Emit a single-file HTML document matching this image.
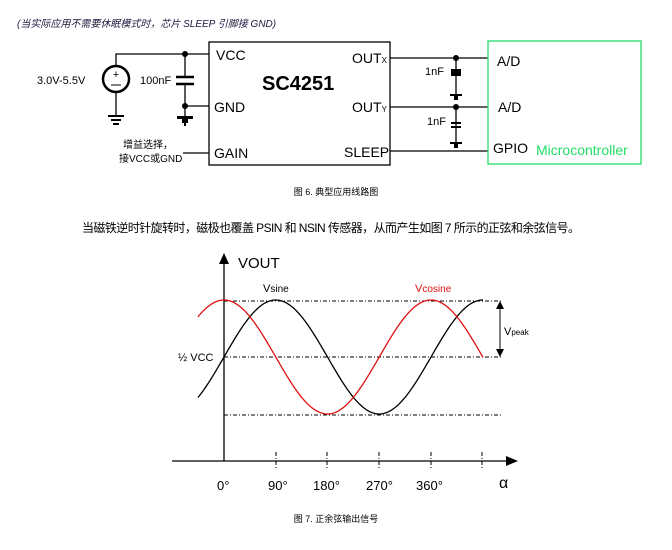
<!DOCTYPE html>
<html><head><meta charset="utf-8"><style>
body{margin:0;background:#fff;width:672px;height:545px;overflow:hidden}
svg text{font-family:"Liberation Sans","Noto Sans CJK SC",sans-serif}
</style></head><body>
<svg width="672" height="545" xmlns="http://www.w3.org/2000/svg">
<text x="17" y="27" font-size="10" font-style="italic" fill="#1a1a40">(当实际应用不需要休眠模式时，芯片 SLEEP 引脚接 GND)</text>
<g stroke="#000" stroke-width="1.3" fill="none">
<rect x="209" y="42" width="181" height="123"/>
<polyline points="116,66 116,54 209,54"/>
<line x1="116" y1="92" x2="116" y2="116"/>
<line x1="185" y1="54" x2="185" y2="77"/>
<line x1="185" y1="84" x2="185" y2="116"/>
<line x1="185" y1="106" x2="209" y2="106"/>
<line x1="183" y1="153" x2="209" y2="153"/>
<line x1="390" y1="58" x2="488" y2="58"/>
<line x1="390" y1="107" x2="488" y2="107"/>
<line x1="390" y1="151" x2="488" y2="151"/>
<line x1="456" y1="58" x2="456" y2="95"/>
<line x1="456" y1="107" x2="456" y2="145"/>
</g>
<circle cx="116" cy="79" r="13" fill="none" stroke="#000" stroke-width="2.5"/>
<text x="116" y="78" font-size="11" text-anchor="middle">+</text>
<line x1="111" y1="85" x2="121" y2="85" stroke="#000"/>
<g stroke="#000" stroke-width="2">
<line x1="108" y1="116" x2="124" y2="116"/><line x1="111" y1="120" x2="121" y2="120"/><line x1="113" y1="124" x2="119" y2="124"/>
<line x1="176" y1="77" x2="194" y2="77" stroke-width="2.5"/><line x1="176" y1="84" x2="194" y2="84" stroke-width="2.5"/>
<line x1="451" y1="123" x2="461" y2="123"/><line x1="451" y1="127" x2="461" y2="127"/>
</g>
<path d="M177 116h16v3h-5v4h-2v3h-2v-3h-2v-4h-5z" fill="#000"/>
<rect x="451" y="69" width="10" height="7" fill="#000"/>
<path d="M450 94h12v2h-4v4h-4v-4h-4z" fill="#000"/>
<path d="M450 142h12v2h-4v4h-4v-4h-4z" fill="#000"/>
<g fill="#000"><circle cx="185" cy="54" r="3"/><circle cx="185" cy="106" r="3"/><circle cx="456" cy="58" r="3"/><circle cx="456" cy="107" r="3"/></g>
<g font-size="14"><text x="216" y="60">VCC</text><text x="214" y="112">GND</text><text x="214" y="158">GAIN</text>
<text x="352" y="63">OUT<tspan font-size="8">X</tspan></text><text x="352" y="112">OUT<tspan font-size="8">Y</tspan></text><text x="344" y="157">SLEEP</text>
<text x="497" y="66">A/D</text><text x="498" y="112">A/D</text><text x="493" y="153">GPIO</text>
<text x="536" y="155" fill="#22dd66">Microcontroller</text></g>
<text x="262" y="90" font-size="20" font-weight="bold">SC4251</text>
<g font-size="11"><text x="37" y="84">3.0V-5.5V</text><text x="140" y="84">100nF</text>
<text x="425" y="75">1nF</text><text x="427" y="125">1nF</text>
<text x="123" y="148" font-size="10">增益选择，</text><text x="119" y="162" font-size="10">接VCC或GND</text></g>
<rect x="488" y="41" width="153" height="123" fill="none" stroke="#22dd66" stroke-width="1.3"/>
<text x="336" y="195" font-size="9" text-anchor="middle">图 6. 典型应用线路图</text>
<text x="82" y="232" font-size="12" textLength="498">当磁铁逆时针旋转时，磁极也覆盖 PSIN 和 NSIN 传感器，从而产生如图 7 所示的正弦和余弦信号。</text>
<g stroke="#000" stroke-width="1.3">
<line x1="224" y1="262" x2="224" y2="461"/>
<line x1="172" y1="461" x2="508" y2="461"/>
</g>
<path d="M219 264L224 253L229 264Z M506 456L518 461L506 466Z" fill="#000"/>
<g stroke="#000" stroke-width="1" stroke-dasharray="4,2,1,2">
<line x1="224" y1="301" x2="502" y2="301"/><line x1="224" y1="357" x2="502" y2="357"/><line x1="224" y1="415" x2="502" y2="415"/>
<line x1="276" y1="452" x2="276" y2="470"/><line x1="327" y1="452" x2="327" y2="470"/><line x1="379" y1="452" x2="379" y2="470"/><line x1="431" y1="452" x2="431" y2="470"/><line x1="482" y1="452" x2="482" y2="470"/>
</g>
<line x1="500" y1="305" x2="500" y2="353" stroke="#000"/>
<path d="M496 309L500 301L504 309Z M496 349L500 357L504 349Z" fill="#000"/>
<polyline id="s" fill="none" stroke="#000" stroke-width="1.3"/>
<polyline id="c" fill="none" stroke="#e01010" stroke-width="1.3"/>
<text x="238" y="268" font-size="15">VOUT</text>
<text x="263" y="292" font-size="11">V<tspan font-size="10">sine</tspan></text>
<text x="415" y="292" font-size="11" fill="#e01010">V<tspan font-size="10">cosine</tspan></text>
<text x="504" y="335" font-size="11">V<tspan font-size="8">peak</tspan></text>
<text x="178" y="361" font-size="11">½ VCC</text>
<g font-size="13"><text x="217" y="490">0°</text><text x="268" y="490">90°</text><text x="313" y="490">180°</text><text x="366" y="490">270°</text><text x="416" y="490">360°</text><text x="499" y="488" font-family="Liberation Serif" font-size="16">α</text></g>
<text x="336" y="522" font-size="9" text-anchor="middle">图 7. 正余弦输出信号</text>
</svg>
<script>
var s=[],c=[];for(var x=198;x<=483;x+=1.5){var a=(x-224)/207*2*Math.PI;s.push(x+","+(357-57*Math.sin(a)).toFixed(1));c.push(x+","+(357-57*Math.cos(a)).toFixed(1));}
document.getElementById("s").setAttribute("points",s.join(" "));document.getElementById("c").setAttribute("points",c.join(" "));
</script>
</body></html>
